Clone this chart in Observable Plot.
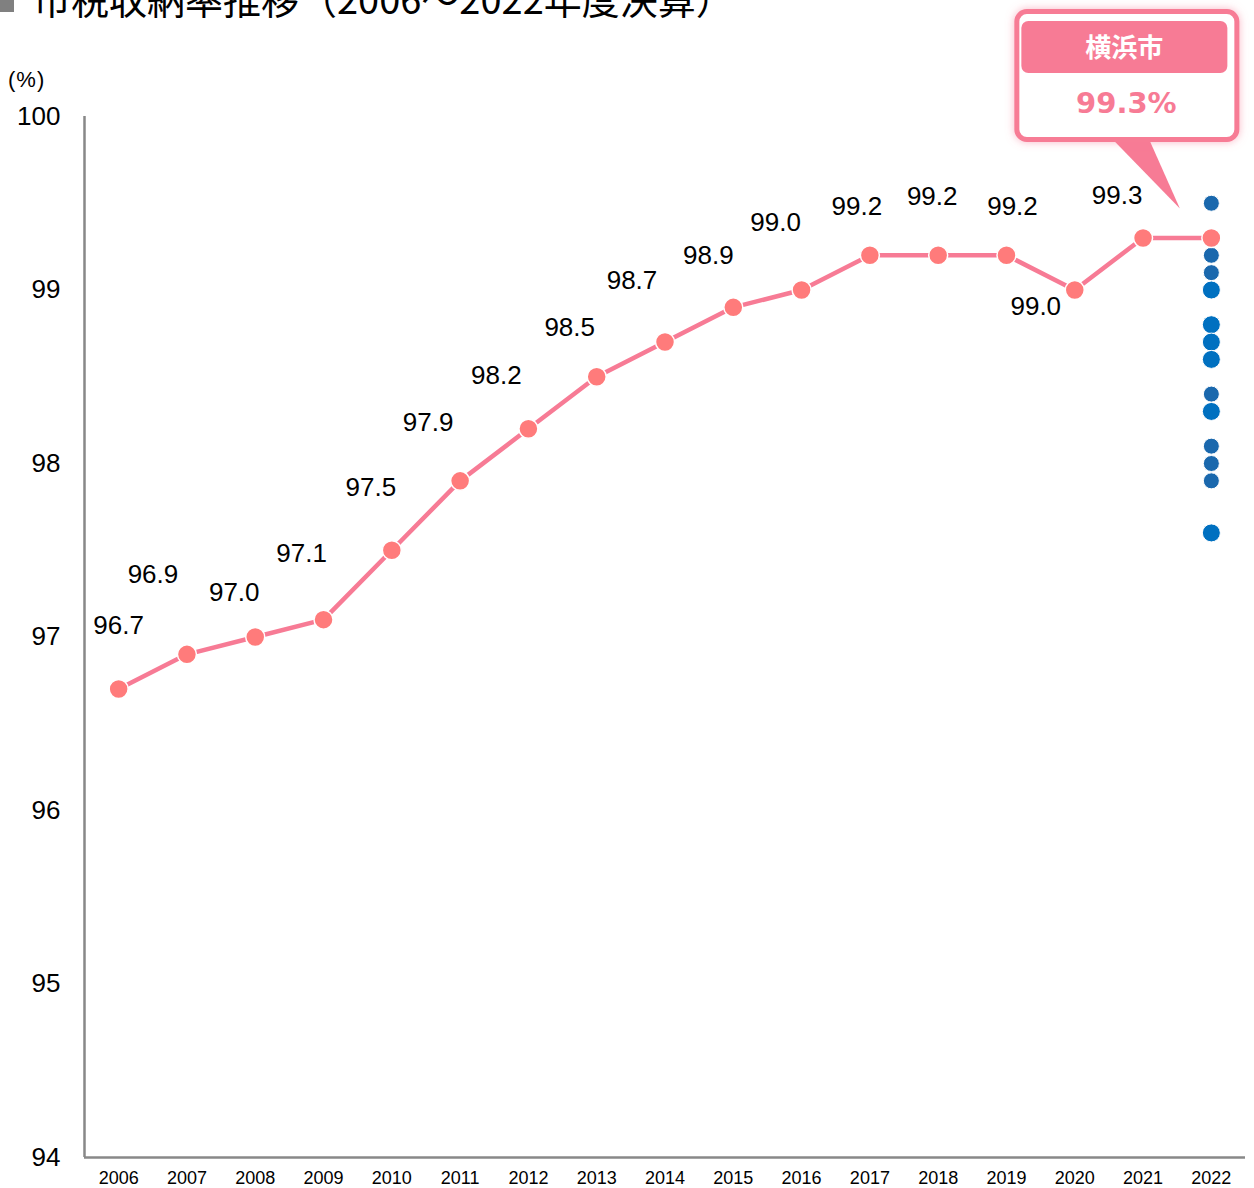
<!DOCTYPE html>
<html><head><meta charset="utf-8">
<script src="https://cdn.jsdelivr.net/npm/d3@7"></script>
<script src="https://cdn.jsdelivr.net/npm/@observablehq/plot@0.6"></script>
<style>
body{margin:0;background:#fff;}
#wrap{position:relative;width:1254px;height:1188px;overflow:hidden;background:#fff;}
#chart{position:absolute;left:0;top:0;}
#title{position:absolute;left:0;top:-21px;font-family:"Noto Sans CJK JP";font-size:38px;line-height:38px;white-space:nowrap;color:#000;}
#title .sq{display:inline-block;width:14px;height:15px;background:#808080;vertical-align:top;margin-top:18px;margin-right:19px;}
#unit{position:absolute;left:8px;top:67px;font-family:"Liberation Sans",Arial,sans-serif;font-size:22px;letter-spacing:1px;color:#000;}
#callout{position:absolute;left:0;top:0;pointer-events:none;}
</style></head><body>
<div id="wrap">
<div id="chart"></div>
<div id="title"><span class="sq"></span>市税収納率推移（2006～2022年度決算）</div>
<div id="unit">(%)</div>
</div>
<script>
const years = [2006,2007,2008,2009,2010,2011,2012,2013,2014,2015,2016,2017,2018,2019,2020,2021,2022];
const yokohamaRates = [96.7,96.9,97.0,97.1,97.5,97.9,98.2,98.5,98.7,98.9,99.0,99.2,99.2,99.2,99.0,99.3,99.3];
const yTicks = [94,95,96,97,98,99,100];
// other designated cities, 2022 (two marker shades in the original)
const otherCitiesA = [99.5,99.2,99.1,98.4,98.1,98.0,97.9];
const otherCitiesB = [99.0,98.8,98.7,98.6,98.3,97.6];
const cityName = "横浜市";

// label placement (layout, px offsets relative to each point)
const labelOffsets = [[0,-63],[-34,-80],[-21,-44],[-22,-66],[-21,-63],[-32,-58],[-32,-53],[-27,-49],[-33,-61],[-25,-52],[-26,-67],[-13,-49],[-6,-59],[6,-49],[-39,17],[-26,-42]];

const series = years.map((year,i)=>({year, rate: yokohamaRates[i]}));
const lastYear = years[years.length-1];
const pink = "#f77b95";
const dotPink = "#ff7b7b";

const labelMarks = series.slice(0, labelOffsets.length).map((d,i)=>
  Plot.text([d], {x:"year", y:"rate", text: d=>d.rate.toFixed(1),
    dx: labelOffsets[i][0], dy: labelOffsets[i][1],
    fontSize: 26, fill: "#000"}));

const chart = Plot.plot({
  width: 1254, height: 1188,
  marginLeft: 84, marginRight: 9, marginTop: 116, marginBottom: 31,
  style: {fontFamily: '"Liberation Sans", Arial, sans-serif', background: "transparent", overflow: "visible"},
  x: {type: "point", domain: years, padding: 0.5, round: false, label: null},
  y: {domain: [94,100], label: null},
  marks: [
    Plot.axisY({ticks: yTicks, tickSize: 0, tickPadding: 24, fontSize: 26, fill: "#000", tickFormat: d=>String(d), label: null}),
    Plot.axisX({tickSize: 0, tickPadding: 14, fontSize: 18, fill: "#000", tickFormat: d=>String(d), label: null}),
    Plot.ruleY([94], {stroke: "#888", strokeWidth: 2.5}),
    Plot.ruleX([years[0]], {stroke: "#888", strokeWidth: 2.5, dx: -34.15, y1: 94, y2: 100}),
    Plot.line(series, {x:"year", y:"rate", stroke: pink, strokeWidth: 4.5}),
    Plot.dot(otherCitiesA, {x: ()=>lastYear, y: d=>d, r: 8, fill: "#1a68ad", stroke: "white", strokeWidth: 1}),
    Plot.dot(otherCitiesB, {x: ()=>lastYear, y: d=>d, r: 9, fill: "#0070c0", stroke: "white", strokeWidth: 1}),
    Plot.dot(series, {x:"year", y:"rate", r: 9.5, fill: dotPink, stroke: "white", strokeWidth: 1.5}),
    ...labelMarks
  ]
});
document.getElementById("chart").appendChild(chart);

// callout anchored to the last data point
const sx = chart.scale("x"), sy = chart.scale("y");
const px = sx.apply(lastYear), py = sy.apply(yokohamaRates[yokohamaRates.length-1]);
const tipX = px - 31, tipY = py - 29;
const bx = tipX - 163, by = 11.5, bw = 220, bh = 128;
const ns = "http://www.w3.org/2000/svg";
const svg = document.createElementNS(ns, "svg");
svg.setAttribute("id","callout"); svg.setAttribute("width",1254); svg.setAttribute("height",1188);
svg.innerHTML = `
<defs><filter id="glow" x="-20%" y="-20%" width="140%" height="140%">
<feDropShadow dx="0" dy="0" stdDeviation="4" flood-color="${pink}" flood-opacity="0.55"/></filter></defs>
<polygon points="${bx+93},${by+bh-3} ${bx+131},${by+bh-3} ${tipX},${tipY}" fill="${pink}"/>
<rect x="${bx}" y="${by}" width="${bw}" height="${bh}" rx="10" fill="white" stroke="${pink}" stroke-width="5" filter="url(#glow)"/>
<rect x="${bx+4.5}" y="${by+9.5}" width="206" height="52" rx="7" fill="${pink}"/>
<text x="${bx+107.5}" y="${by+45}" text-anchor="middle" fill="white" font-family="Noto Sans CJK JP" font-weight="700" font-size="26">${cityName}</text>
<text x="${bx+109.5}" y="${by+101}" text-anchor="middle" fill="${pink}" font-family="DejaVu Sans" font-weight="700" font-size="29">${yokohamaRates[yokohamaRates.length-1].toFixed(1)}%</text>`;
document.getElementById("wrap").appendChild(svg);
</script>
</body></html>
